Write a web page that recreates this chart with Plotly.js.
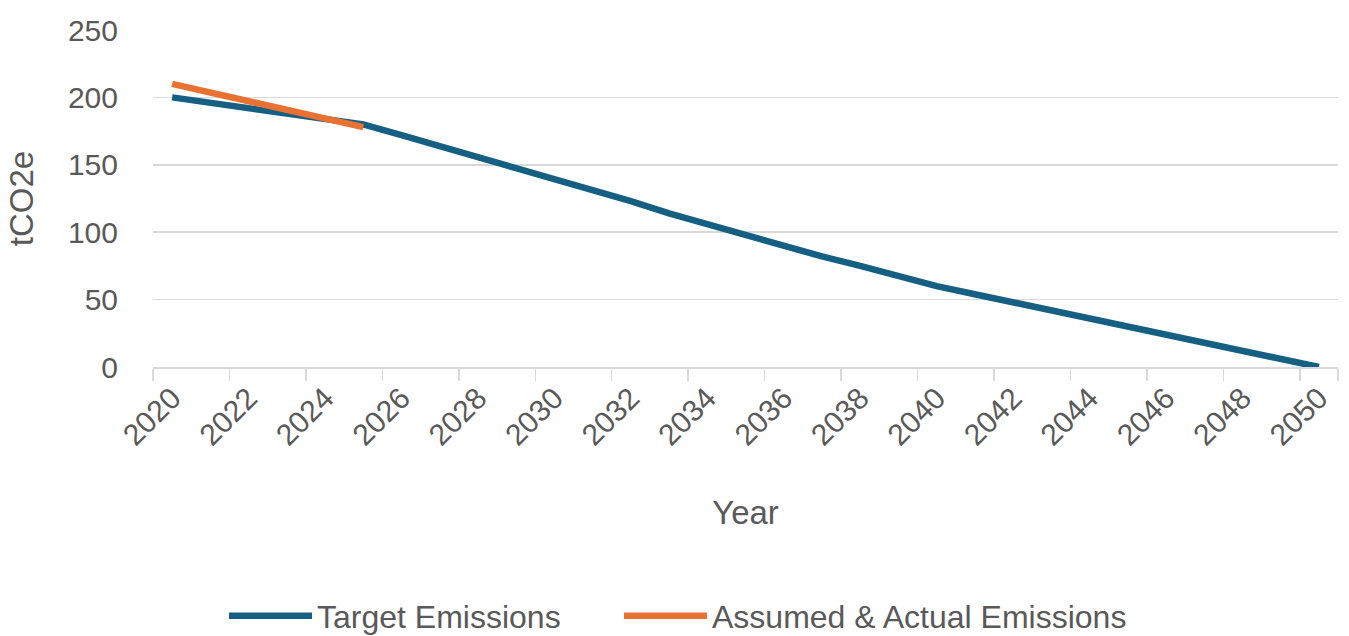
<!DOCTYPE html>
<html>
<head>
<meta charset="utf-8">
<script src="https://cdn.plot.ly/plotly-3.0.1.min.js"></script>
<style>html,body{margin:0;padding:0;background:#fff;}#chart{width:1349px;height:636px;}</style>
</head>
<body>
<div id="chart"></div>
<script>
const years = ["2020","2021","2022","2023","2024","2025","2026","2027","2028","2029","2030",
  "2031","2032","2033","2034","2035","2036","2037","2038","2039","2040",
  "2041","2042","2043","2044","2045","2046","2047","2048","2049","2050"];
const targetEmissions = [200,196,192,188,184,180,172,164,156,148,140,
  131,123,114,106,97,90,82,75,67,60,
  54,48,42,36,30,24,18,12,6,0];
const actualYears = ["2020","2021","2022","2023","2024","2025"];
const actualEmissions = [210,203.6,197.2,190.8,184.4,178];
const tickLabels = ["2020","2022","2024","2026","2028","2030","2032","2034","2036","2038","2040","2042","2044","2046","2048","2050"];

const grey = "#595959";
const fontFam = "Liberation Sans, Arial, sans-serif";

const traces = [
  {x: years, y: targetEmissions, type: "scatter", mode: "lines", name: "Target Emissions",
   line: {color: "#156082", width: 6.5}, legend: "legend"},
  {x: actualYears, y: actualEmissions, type: "scatter", mode: "lines", name: "Assumed & Actual Emissions",
   line: {color: "#E97132", width: 6.5}, legend: "legend2"}
];

const legendCommon = {orientation: "h", xanchor: "left", xref: "paper", y: -0.739, yanchor: "middle",
  font: {size: 32, color: grey}, itemwidth: 83, bgcolor: "rgba(0,0,0,0)"};

const layout = {
  width: 1349, height: 636,
  margin: {l: 153, r: 11, t: 30, b: 269, autoexpand: false},
  paper_bgcolor: "#fff", plot_bgcolor: "#fff",
  font: {family: fontFam, color: grey, size: 30},
  showlegend: true,
  legend: Object.assign({}, legendCommon, {x: (224 - 153) / 1185}),
  legend2: Object.assign({}, legendCommon, {x: (619 - 153) / 1185}),
  xaxis: {
    type: "category", categoryorder: "array", categoryarray: years,
    range: [-0.5, 30.5],
    tickmode: "array", tickvals: tickLabels, ticktext: tickLabels,
    tickson: "boundaries",
    tickangle: -45, ticks: "outside", ticklen: 12, tickwidth: 1.5, tickcolor: "#D9D9D9",
    showline: true, linecolor: "#D9D9D9", linewidth: 1.5,
    showgrid: false, zeroline: false,
    tickfont: {size: 30, color: grey},
    title: {text: "Year", font: {size: 33, color: grey}, standoff: 50},
    automargin: false
  },
  yaxis: {
    range: [0, 250], dtick: 50, tick0: 0,
    showgrid: true, gridcolor: "#D9D9D9", gridwidth: 1.5,
    zeroline: false, showline: false, ticks: "",
    ticklabelstandoff: 34,
    tickfont: {size: 30, color: grey},
    title: {text: "tCO2e", font: {size: 33, color: grey}, standoff: 24},
    automargin: false
  }
};

Plotly.newPlot("chart", traces, layout, {displayModeBar: false, staticPlot: true});
</script>
</body>
</html>
